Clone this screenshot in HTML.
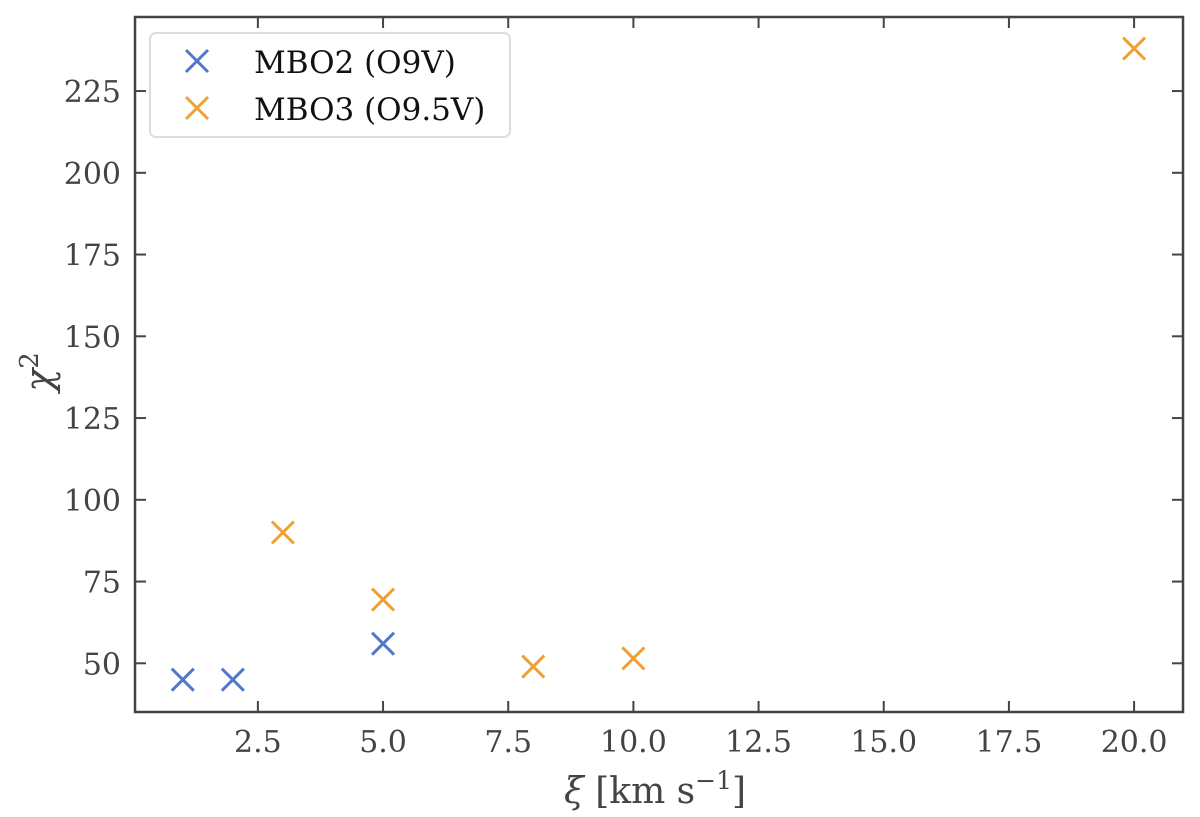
<!DOCTYPE html>
<html><head><meta charset="utf-8"><style>
body{margin:0;background:#fff}
text{font-family:"DejaVu Serif","Liberation Serif",serif;fill:#444}
</style></head><body>
<svg id="chart" width="1200" height="812" xmlns="http://www.w3.org/2000/svg">
<g id="marks"></g>
<rect x="135" y="17" width="1048" height="695" fill="none" stroke="#444" stroke-width="2.5"/>
<g id="ticks"></g>
<text x="655" y="803" font-size="36" text-anchor="middle"><tspan font-style="italic">ξ</tspan> [km s<tspan dy="-14" font-size="25">−1</tspan><tspan dy="14">]</tspan></text>
<text transform="translate(52,372) rotate(-90)" font-size="38" text-anchor="middle"><tspan font-style="italic">χ</tspan><tspan dy="-14" font-size="26">2</tspan></text>
<g>
<rect x="150" y="33" width="360" height="104" rx="6" fill="#fff" fill-opacity="0.8" stroke="#ddd" stroke-width="2"/>
<g><path d="M186 50 L208 72 M208 50 L186 72" stroke="#4f78cc" stroke-width="3"/><text x="254" y="73" font-size="31" style="fill:#111">MBO2 (O9V)</text></g>
<g><path d="M186 97 L208 119 M208 97 L186 119" stroke="#f0a030" stroke-width="3"/><text x="254" y="120" font-size="31" style="fill:#111">MBO3 (O9.5V)</text></g>
</g>
</svg>
<script>
const mbo2X=[1,2,5];
const mbo2Y=[45,45,56];
const mbo3X=[3,5,8,10,20];
const mbo3Y=[90,69.5,49,51.5,238];
const xTicks=[2.5,5.0,7.5,10.0,12.5,15.0,17.5,20.0];
const yTicks=[50,75,100,125,150,175,200,225];
function sx(v){return 132.7+v*50.07;}
function sy(v){return 663.3-(v-50)*3.27;}
const NS="http://www.w3.org/2000/svg";
const marks=document.getElementById('marks'),ticks=document.getElementById('ticks');
function cross(x,y,c,name){const p=document.createElementNS(NS,'path');const X=sx(x),Y=sy(y),r=11;
p.setAttribute('d',`M${X-r} ${Y-r} L${X+r} ${Y+r} M${X+r} ${Y-r} L${X-r} ${Y+r}`);
p.setAttribute('stroke',c);p.setAttribute('stroke-width','3');


marks.appendChild(p);}
mbo2X.forEach((x,i)=>cross(x,mbo2Y[i],'#4f78cc','mbo2-point'));
mbo3X.forEach((x,i)=>cross(x,mbo3Y[i],'#f0a030','mbo3-point'));
function line(x1,y1,x2,y2){const l=document.createElementNS(NS,'line');l.setAttribute('x1',x1);l.setAttribute('y1',y1);l.setAttribute('x2',x2);l.setAttribute('y2',y2);l.setAttribute('stroke','#444');l.setAttribute('stroke-width','2');


ticks.appendChild(l);}
function txt(x,y,s,a){const t=document.createElementNS(NS,'text');t.setAttribute('x',x);t.setAttribute('y',y);t.setAttribute('font-size','30');t.setAttribute('text-anchor',a);t.textContent=s;


ticks.appendChild(t);}
xTicks.forEach(v=>{const X=sx(v);line(X,712,X,701);line(X,17,X,28);txt(X,752,v.toFixed(1),'middle');});
yTicks.forEach(v=>{const Y=sy(v);line(135,Y,146,Y);line(1183,Y,1172,Y);txt(121,Y+11,String(v),'end');});
</script>
</body></html>
